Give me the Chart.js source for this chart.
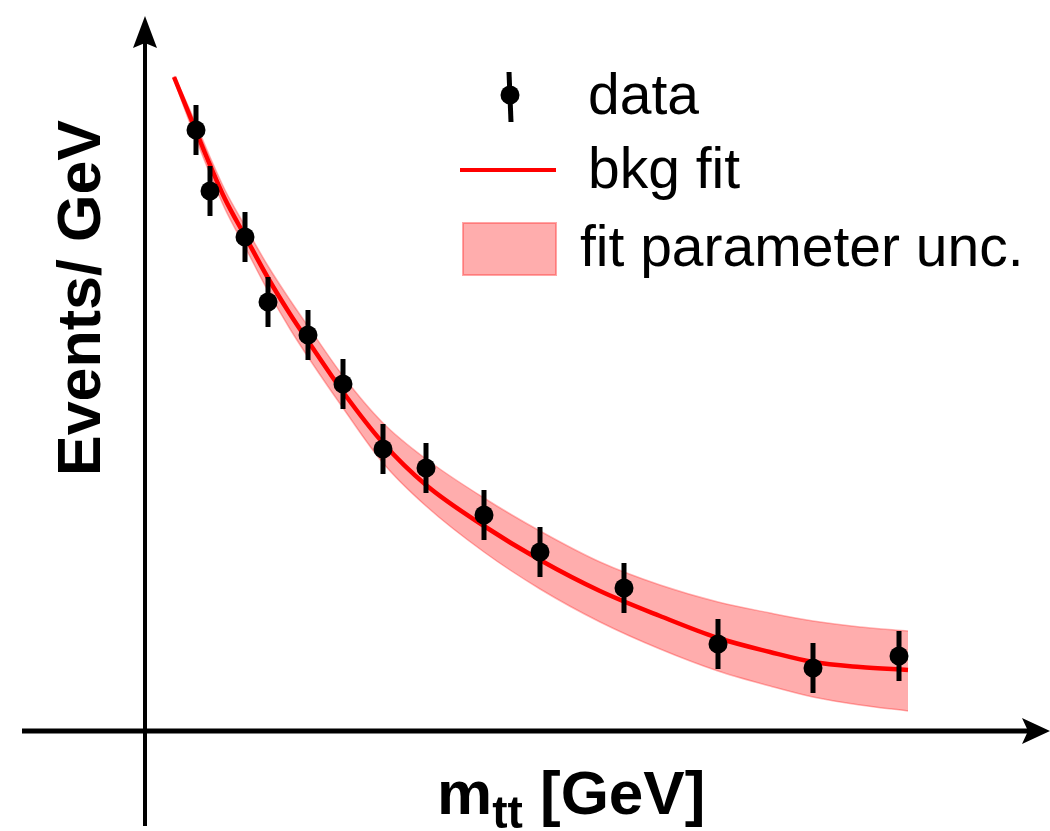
<!DOCTYPE html>
<html><head><meta charset="utf-8">
<script src="https://cdn.jsdelivr.net/npm/chart.js@4.4.1/dist/chart.umd.min.js"></script>
<style>html,body{margin:0;padding:0;background:#fff;} #wrap{width:1050px;height:831px;position:relative;}</style>
</head><body><div id="wrap"><canvas id="c"></canvas></div>
<script>
// measured data points (arbitrary axis units)
const dataX   = [5.1, 6.5, 10.0, 12.3, 16.3, 19.8, 23.8, 28.1, 33.9, 39.5, 47.9, 57.3, 66.8, 75.4];
const dataY   = [60.1, 54.0, 49.4, 42.9, 39.6, 34.7, 28.2, 26.3, 21.6, 17.9, 14.3, 8.7, 6.3, 7.5];
const dataErr = [2.5, 2.5, 2.5, 2.5, 2.5, 2.5, 2.5, 2.5, 2.5, 2.5, 2.5, 2.5, 2.5, 2.5];
// background fit curve
const fitX    = [2.9, 4.0, 5.1, 6.5, 8.0, 10.0, 12.3, 14.5, 16.5, 19.8, 23.8, 28.1, 33.9, 39.5, 45.5, 51.5, 57.3, 62.5, 66.8, 71.5, 76.3];
const fitY    = [65.4, 62.7, 60.0, 56.6, 53.2, 49.5, 45.3, 41.7, 38.7, 33.9, 28.8, 24.6, 20.5, 17.1, 14.0, 11.5, 9.3, 7.9, 6.9, 6.4, 6.1];
// fit parameter uncertainty band
const bandHi  = [65.5, 63.2, 60.7, 57.4, 54.1, 50.5, 46.5, 43.1, 40.2, 35.5, 30.8, 27.2, 23.3, 20.0, 16.9, 14.6, 12.9, 11.8, 11.0, 10.4, 10.0];
const bandLo  = [65.2, 62.1, 59.2, 55.7, 52.2, 48.4, 44.0, 40.2, 37.1, 32.3, 26.8, 22.5, 17.9, 14.2, 10.9, 8.2, 6.0, 4.5, 3.4, 2.6, 2.0];
const legendLabels = ['data', 'bkg fit', 'fit parameter unc.'];
const yTitle = 'Events/ GeV';
const xTitleMain = 'm', xTitleSub = 'tt', xTitleUnit = ' [GeV]';

const pts = (xs, ys) => xs.map((x, i) => ({x: x, y: ys[i]}));
const FONT = '"Liberation Sans", Arial, sans-serif';
const BAND_FILL = 'rgba(255,0,0,0.32)';
const BAND_EDGE = 'rgba(255,40,40,0.35)';

const axesPlugin = {
  id: 'axesArrows',
  beforeDatasetsDraw(chart) {
    const ctx = chart.ctx, xs = chart.scales.x, ys = chart.scales.y;
    const x0 = xs.getPixelForValue(0), y0 = ys.getPixelForValue(0);
    ctx.save();
    ctx.strokeStyle = '#000'; ctx.fillStyle = '#000';
    // y axis
    ctx.lineWidth = 4;
    ctx.beginPath(); ctx.moveTo(x0, 826); ctx.lineTo(x0, 40); ctx.stroke();
    ctx.beginPath(); ctx.moveTo(x0, 16); ctx.lineTo(x0 + 12, 48); ctx.lineTo(x0, 43); ctx.lineTo(x0 - 12, 48); ctx.closePath(); ctx.fill();
    // x axis
    ctx.lineWidth = 5;
    ctx.beginPath(); ctx.moveTo(22, y0); ctx.lineTo(1030, y0); ctx.stroke();
    ctx.beginPath(); ctx.moveTo(1050, y0); ctx.lineTo(1022, y0 - 13); ctx.lineTo(1028, y0); ctx.lineTo(1022, y0 + 13); ctx.closePath(); ctx.fill();
    ctx.restore();
  },
  beforeDatasetDraw(chart, args) {
    if (args.index !== 0) return;
    const ctx = chart.ctx, xs = chart.scales.x, ys = chart.scales.y;
    ctx.save();
    ctx.strokeStyle = '#000'; ctx.lineWidth = 5; ctx.lineCap = 'butt';
    dataX.forEach((x, i) => {
      const px = xs.getPixelForValue(x);
      ctx.beginPath();
      ctx.moveTo(px, ys.getPixelForValue(dataY[i] + dataErr[i]));
      ctx.lineTo(px, ys.getPixelForValue(dataY[i] - dataErr[i]));
      ctx.stroke();
    });
    ctx.restore();
  },
  afterDraw(chart) {
    const ctx = chart.ctx;
    ctx.save();
    // legend symbols
    ctx.strokeStyle = '#000'; ctx.lineWidth = 5;
    ctx.beginPath(); ctx.moveTo(509, 72); ctx.lineTo(511, 122); ctx.stroke();
    ctx.fillStyle = '#000';
    ctx.beginPath(); ctx.arc(510, 95, 9.5, 0, Math.PI * 2); ctx.fill();
    ctx.strokeStyle = '#ff0000'; ctx.lineWidth = 4;
    ctx.beginPath(); ctx.moveTo(460, 170); ctx.lineTo(556, 170); ctx.stroke();
    ctx.fillStyle = BAND_FILL; ctx.fillRect(463, 223, 93, 52);
    ctx.strokeStyle = 'rgba(255,60,60,0.45)'; ctx.lineWidth = 2; ctx.strokeRect(463, 223, 93, 52);
    // legend texts
    ctx.fillStyle = '#000'; ctx.textBaseline = 'alphabetic'; ctx.textAlign = 'left';
    ctx.font = '57px ' + FONT;
    ctx.fillText(legendLabels[0], 588, 114);
    ctx.fillText(legendLabels[1], 588, 188);
    ctx.fillText(legendLabels[2], 580, 266);
    // y title
    ctx.save();
    ctx.translate(100, 298); ctx.rotate(-Math.PI / 2);
    ctx.font = 'bold 61px ' + FONT; ctx.textAlign = 'center';
    ctx.fillText(yTitle, 0, 0);
    ctx.restore();
    // x title with subscript
    let x = 437;
    ctx.font = 'bold 62px ' + FONT;
    ctx.fillText(xTitleMain, x, 814); x += ctx.measureText(xTitleMain).width;
    ctx.font = 'bold 46px ' + FONT;
    ctx.fillText(xTitleSub, x, 828); x += ctx.measureText(xTitleSub).width;
    ctx.font = 'bold 62px ' + FONT;
    ctx.fillText(xTitleUnit, x, 814);
    ctx.restore();
  }
};

new Chart(document.getElementById('c'), {
  type: 'scatter',
  data: {
    datasets: [
      { label: 'data', data: pts(dataX, dataY), pointRadius: 9.5, pointHoverRadius: 9.5,
        backgroundColor: '#000', borderWidth: 0, showLine: false },
      { label: 'bkg fit', data: pts(fitX, fitY), showLine: true, borderColor: '#ff0000', borderWidth: 4.5,
        pointRadius: 0, cubicInterpolationMode: 'monotone', fill: false },
      { label: 'band hi', data: pts(fitX, bandHi), showLine: true, borderColor: BAND_EDGE, borderWidth: 1.5,
        pointRadius: 0, cubicInterpolationMode: 'monotone', fill: '+1', backgroundColor: BAND_FILL },
      { label: 'band lo', data: pts(fitX, bandLo), showLine: true, borderColor: BAND_EDGE, borderWidth: 1.5,
        pointRadius: 0, cubicInterpolationMode: 'monotone', fill: false }
    ]
  },
  options: {
    responsive: true, maintainAspectRatio: false, animation: false,
    layout: { padding: 0, autoPadding: false },
    events: [],
    plugins: { legend: { display: false }, tooltip: { enabled: false }, title: { display: false } },
    scales: {
      x: { type: 'linear', min: -14.5, max: 90.5, display: false },
      y: { type: 'linear', min: -10, max: 73.1, display: false }
    }
  },
  plugins: [axesPlugin]
});
</script></body></html>
